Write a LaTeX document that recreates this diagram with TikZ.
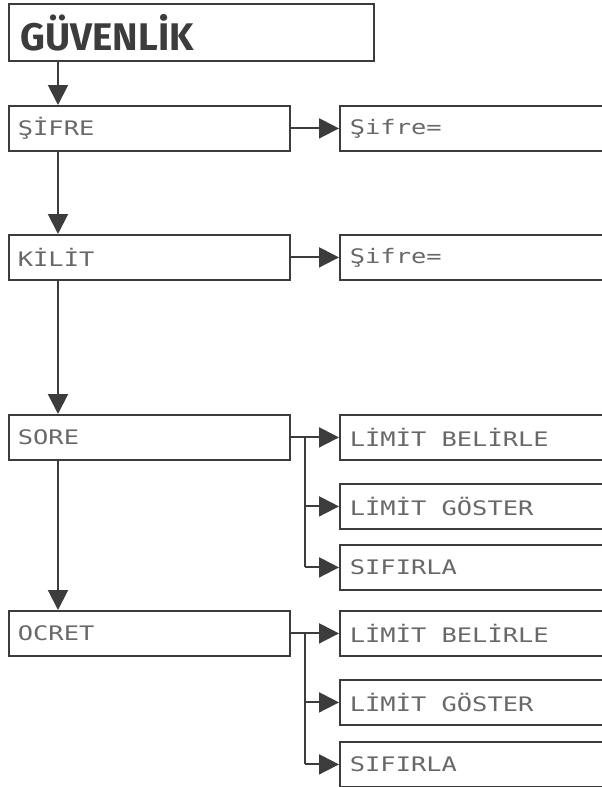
\documentclass[tikz,border=0pt]{standalone}
\usepackage{fontspec}
\setmainfont{Fira Sans}
\newfontfamily\dotfont[FakeStretch=1.27]{DejaVu Sans Mono}
\newfontfamily\titlefont{Fira Sans Bold}
\usetikzlibrary{arrows.meta}
\definecolor{linec}{HTML}{3C3C3C}
\definecolor{textc}{HTML}{686868}
\newcommand\cellgap{\hspace*{15.3pt}}
\tikzset{
  boxL/.style={draw=linec, line width=1.8pt, rectangle, anchor=north west, minimum width=281pt, minimum height=45pt, inner xsep=9pt, text width=263pt, align=left, font={\dotfont\fontsize{20}{21}\selectfont}, text=textc},
  boxR/.style={boxL, minimum width=290pt, text width=270pt, inner xsep=10pt},
  conn/.style={draw=linec, line width=2pt, -{Triangle[length=20pt,width=20pt]}},
  plain/.style={draw=linec, line width=2pt}
}
\begin{document}
\begin{tikzpicture}[x=1pt,y=-1pt]
\useasboundingbox (0,0) rectangle (602,787);
\clip (0,0) rectangle (602,787);
\node[draw=linec, line width=1.8pt, anchor=north west, minimum width=365pt, minimum height=57pt, inner xsep=12pt, text width=341pt, align=left, font=\titlefont\fontsize{38.5}{40}\selectfont, text=linec] (title) at (8,3) {GÜVENLİK};
\node[boxL] (sifre) at (8,105) {ŞİFRE};
\node[boxR] (sifreR) at (339,105) {Şifre=};
\node[boxL] (kilit) at (8,234) {KİLİT};
\node[boxR] (kilitR) at (339,234) {Şifre=};
\node[boxL] (sore) at (8,414) {SORE};
\node[boxR] (soreA) at (339,414) {LİMİT\cellgap BELİRLE};
\node[boxR] (soreB) at (339,483) {LİMİT\cellgap GÖSTER};
\node[boxR] (soreC) at (339,544) {SIFIRLA};
\node[boxL] (ocret) at (8,610) {OCRET};
\node[boxR] (ocretA) at (339,610) {LİMİT\cellgap BELİRLE};
\node[boxR] (ocretB) at (339,679) {LİMİT\cellgap GÖSTER};
\node[boxR] (ocretC) at (339,741) {SIFIRLA};
% vertical spine
\draw[conn] (title.south west) ++(50,0) coordinate (t0) -- (t0 |- sifre.north);
\draw[conn] (sifre.south west) ++(50,0) coordinate (t1) -- (t1 |- kilit.north);
\draw[conn] (kilit.south west) ++(50,0) coordinate (t2) -- (t2 |- sore.north);
\draw[conn] (sore.south west) ++(50,0) coordinate (t3) -- (t3 |- ocret.north);
% horizontal
\draw[conn] (sifre.east) -- (sifreR.west);
\draw[conn] (kilit.east) -- (kilitR.west);
% SORE branches
\coordinate (sb) at ([xshift=14pt]sore.east);
\draw[conn] (sore.east) -- (soreA.west);
\draw[plain] (sb) -- (sb |- soreC.west);
\draw[conn] (sb |- soreB.west) -- (soreB.west);
\draw[conn] (sb |- soreC.west) -- (soreC.west);
% OCRET branches
\coordinate (ob) at ([xshift=14pt]ocret.east);
\draw[conn] (ocret.east) -- (ocretA.west);
\draw[plain] (ob) -- (ob |- ocretC.west);
\draw[conn] (ob |- ocretB.west) -- (ocretB.west);
\draw[conn] (ob |- ocretC.west) -- (ocretC.west);
\end{tikzpicture}
\end{document}
